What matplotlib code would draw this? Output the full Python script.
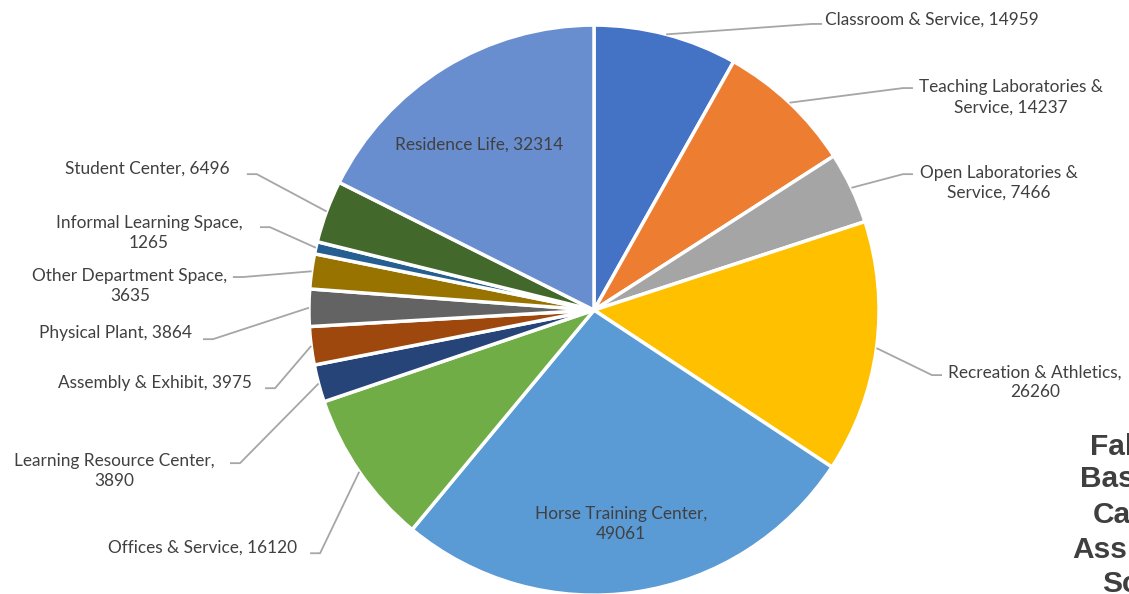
import matplotlib.pyplot as plt
import numpy as np

# ── data ────────────────────────────────────────────────────────────────────
categories = [
    "Classroom & Service", "Teaching Laboratories &\nService",
    "Open Laboratories &\nService", "Recreation & Athletics,\n",
    "Horse Training Center,\n", "Offices & Service",
    "Learning Resource Center,\n", "Assembly & Exhibit", "Physical Plant",
    "Other Department Space,\n", "Informal Learning Space,\n",
    "Student Center", "Residence Life",
]
values = [14959, 14237, 7466, 26260, 49061, 16120, 3890, 3975, 3864,
          3635, 1265, 6496, 32314]
colors = ["#4472C4", "#ED7D31", "#A5A5A5", "#FFC000", "#5B9BD5", "#70AD47",
          "#264478", "#9E480E", "#636363", "#997300", "#255E91", "#43682B",
          "#698ED0"]

# side note, only its left edge is in view
note_lines = ["Fal", "Bas", "Ca", "Ass", "Sc"]

# ── layout (pie radius = 1 unit) ───────────────────────────────────────────
# label anchor (x, y), horizontal alignment, leader end point (None = inside)
label_pos = [
    ((0.811, 1.018), "left", (0.800, 1.004)),
    ((1.463, 0.747), "center", (1.119, 0.779)),
    ((1.421, 0.446), "center", (1.119, 0.477)),
    ((1.547, -0.253), "center", (1.221, -0.228)),
    ((0.095, -0.751), "center", None),
    ((-1.042, -0.832), "right", (-0.996, -0.853)),
    ((-1.684, -0.565), "center", (-1.277, -0.537)),
    ((-1.200, -0.256), "right", (-1.154, -0.274)),
    ((-1.411, -0.081), "right", (-1.372, -0.102)),
    ((-1.628, 0.086), "center", (-1.267, 0.116)),
    ((-1.561, 0.272), "center", (-1.172, 0.291)),
    ((-1.277, 0.498), "right", (-1.218, 0.477)),
    ((-0.404, 0.579), "center", None),
]
STUB = 0.035
TEXT_COLOR = "#404040"
LEADER_COLOR = "#a6a6a6"
FONT = "Lato"
FONT_SIZE = 12.4

fig = plt.figure(figsize=(11.29, 5.94), dpi=100)
ax = fig.add_axes([0, 0, 1, 1])

ax.pie(values, colors=colors, startangle=90, counterclock=False, radius=1,
       wedgeprops=dict(edgecolor="white", linewidth=2.5))

ax.set_xlim(-2.084, 1.877)
ax.set_ylim(-0.996, 1.088)
ax.set_aspect("auto")
ax.axis("off")

total = float(sum(values))
cum = np.concatenate([[0], np.cumsum(values)[:-1]])
mid_deg = 90 - (cum + np.array(values) / 2) / total * 360

for name, val, mid, (pos, ha, end) in zip(categories, values, mid_deg,
                                          label_pos):
    # two-line labels carry the value on the second line
    text = name + str(val) if name.endswith("\n") else f"{name}, {val}"
    ax.text(pos[0], pos[1], text, ha=ha, va="center", fontsize=FONT_SIZE,
            family=FONT, color=TEXT_COLOR, linespacing=1.3,
            multialignment="center")
    if end is None:
        continue
    a = np.deg2rad(mid)
    sx, sy = np.cos(a), np.sin(a)
    bend_x = end[0] - STUB if end[0] > 0 else end[0] + STUB
    ax.plot([sx, bend_x, end[0]], [sy, end[1], end[1]], color=LEADER_COLOR,
            lw=1.3, clip_on=False, solid_capstyle="butt")

# cut-off note at the lower right
note_x = [1.739, 1.705, 1.751, 1.677, 1.782]
note_y = [-0.481, -0.593, -0.719, -0.842, -0.961]
for txt, x, y in zip(note_lines, note_x, note_y):
    ax.text(x, y, txt, ha="left", va="center", fontsize=21.5,
            family="Liberation Sans", fontweight="bold", color="#3f3f3f")

fig.savefig("out.png", dpi=100)
